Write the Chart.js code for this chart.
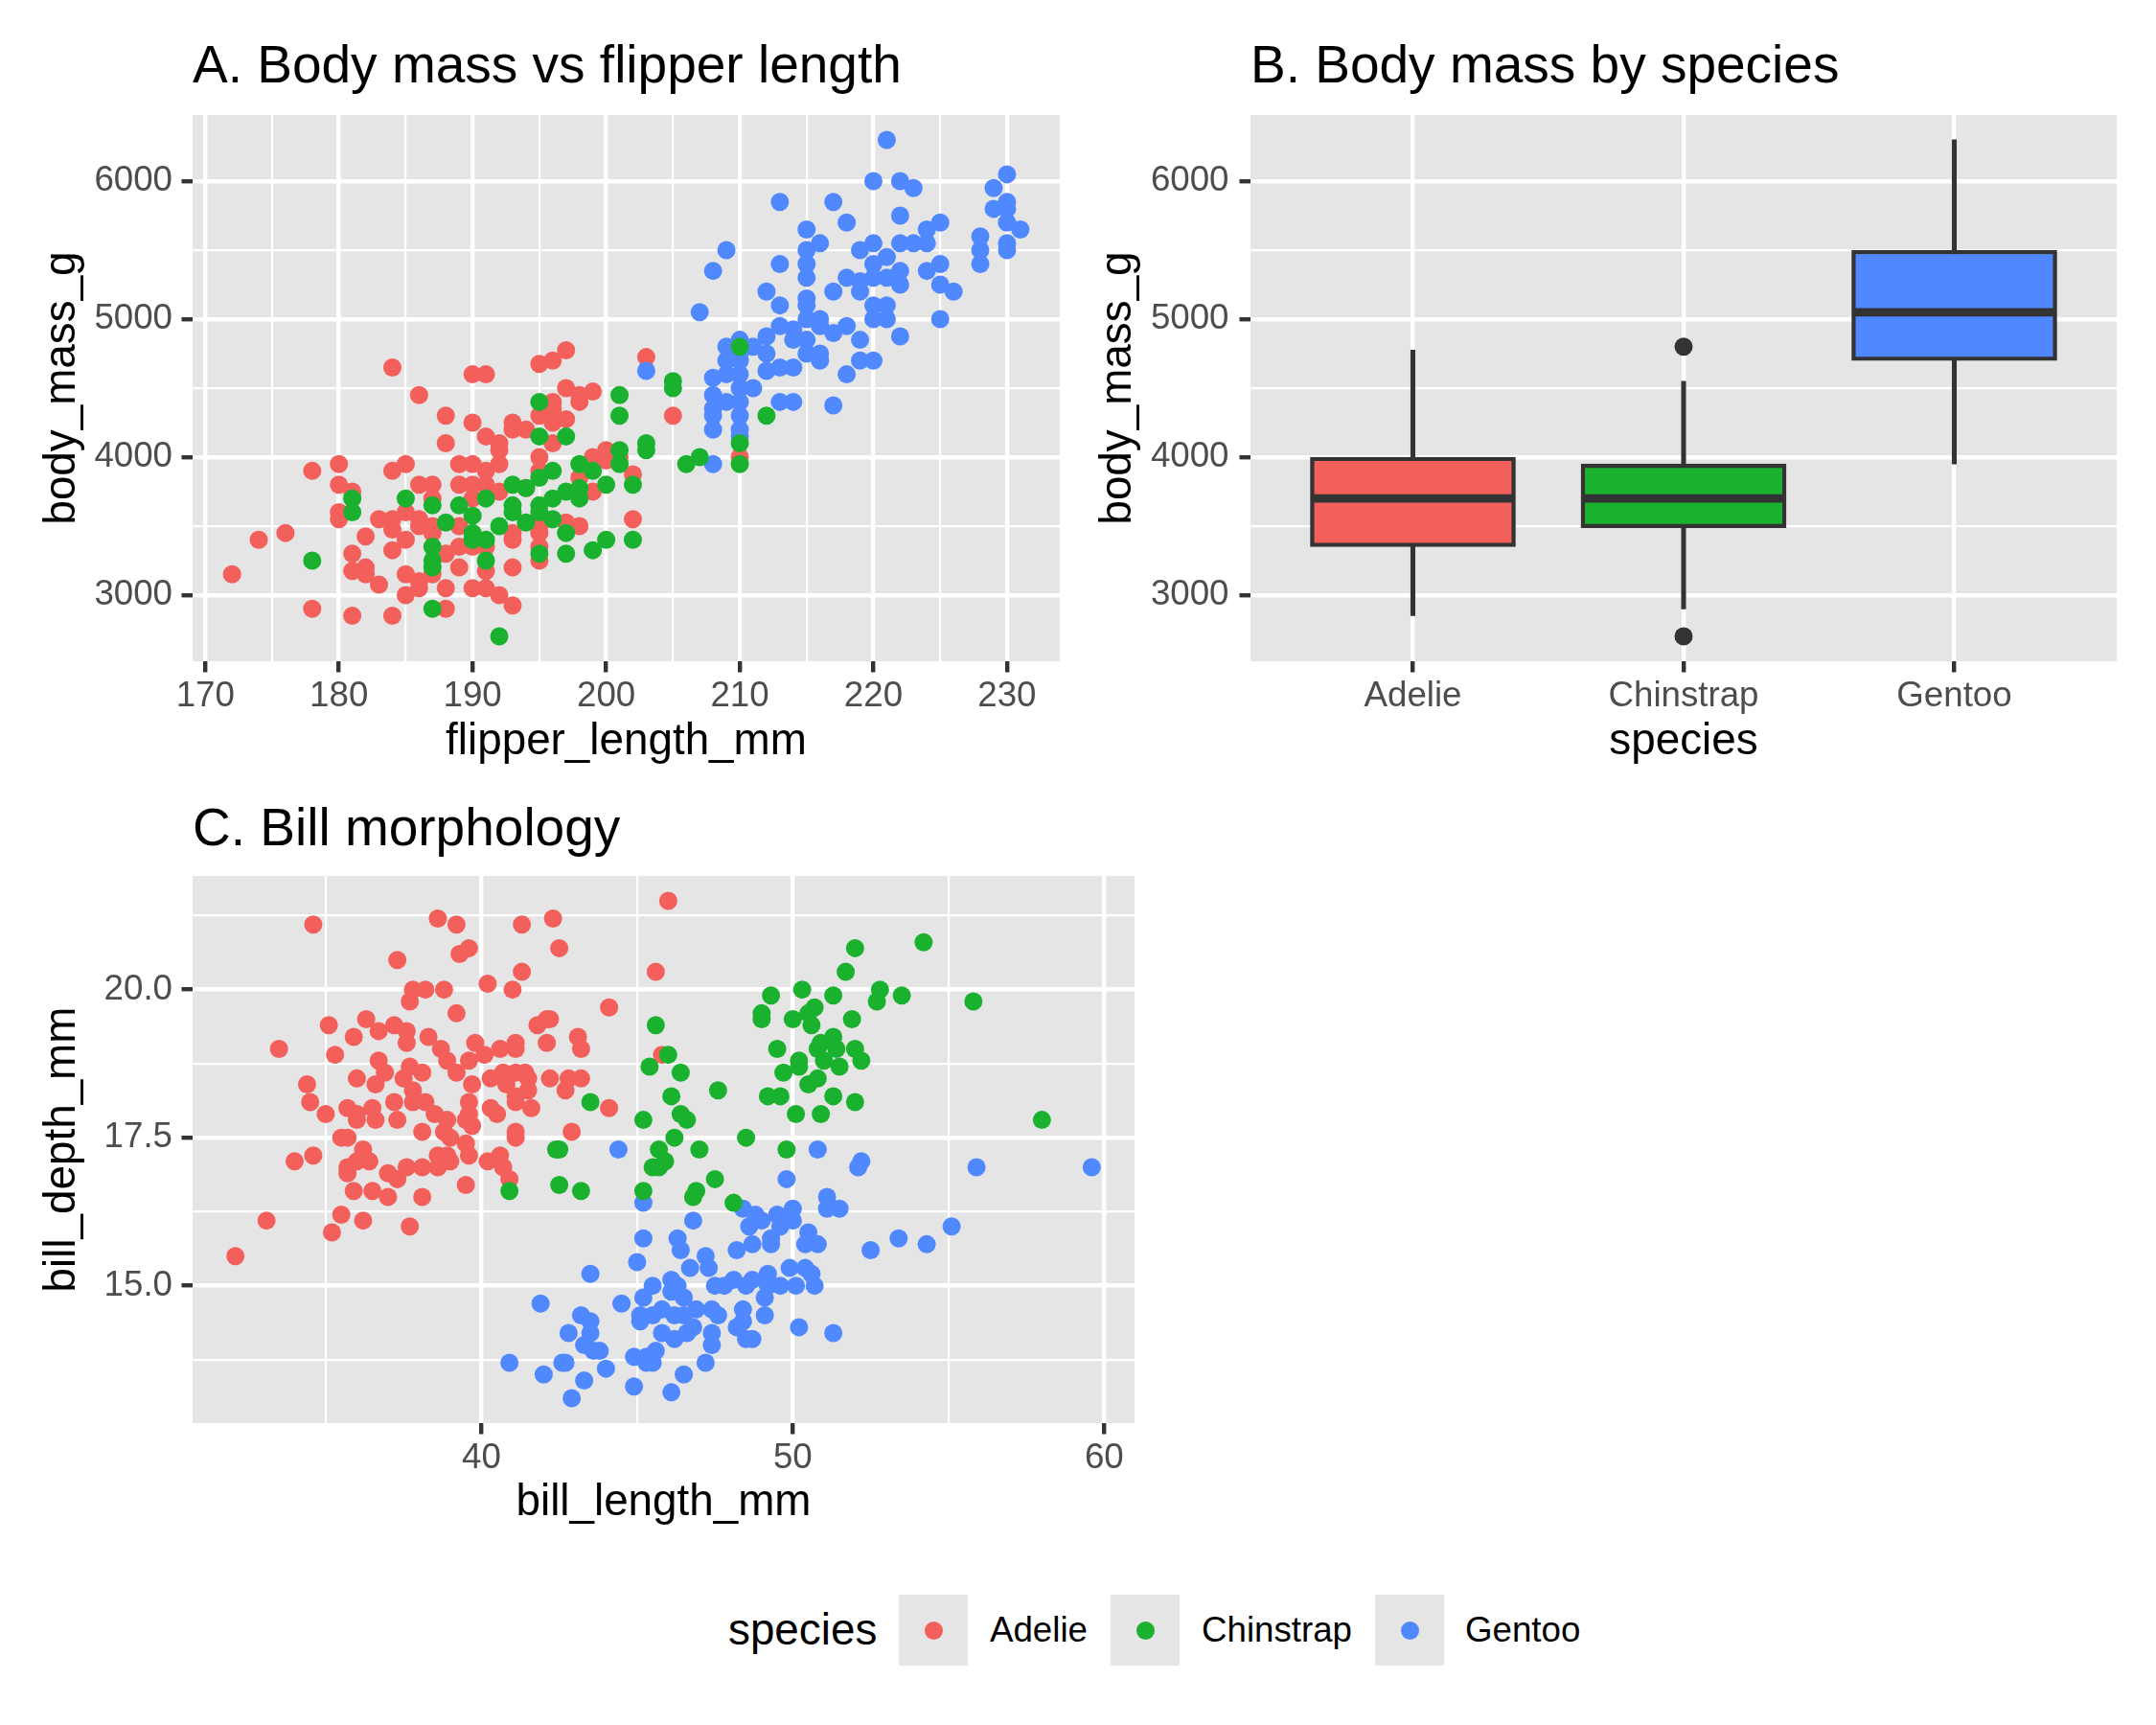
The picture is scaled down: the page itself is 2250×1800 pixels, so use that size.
<!DOCTYPE html>
<html lang="en">
<head>
<meta charset="UTF-8">
<title>Palmer penguins</title>
<script src="https://cdn.jsdelivr.net/npm/chart.js"></script>
<style>
    body {
        margin: 0;
        width: 2250px;
        height: 1800px;
        background: #ffffff;
        position: relative;
        overflow: hidden;
        font-family: "Liberation Sans", Arial, Helvetica, sans-serif;
        color: #000000;
    }
    canvas { position: absolute; }
    #chartA { left: 0; top: 0; }
    #chartB { left: 1104px; top: 0; }
    #chartC { left: 0; top: 830px; }

    .legend-title, .legend-label, .legend-key {
        position: absolute;
        top: 1664px;
        height: 74px;
        line-height: 74px;
        white-space: nowrap;
    }
    .legend-title { font-size: 45.8px; }
    .legend-label { font-size: 36.7px; }
    .legend-key { width: 72px; background: #E5E5E5; }
    .legend-key span {
        position: absolute;
        left: 26.5px;
        top: 27.5px;
        width: 19px;
        height: 19px;
        border-radius: 50%;
    }
</style>
</head>
<body>

<canvas id="chartA" width="1125" height="830"></canvas>
<canvas id="chartB" width="1146" height="830"></canvas>
<canvas id="chartC" width="1203" height="790"></canvas>

<div class="legend-title" style="left:760px">species</div>
<div class="legend-key" style="left:938px"><span style="background:#F35F5B"></span></div>
<div class="legend-label" style="left:1033px">Adelie</div>
<div class="legend-key" style="left:1159px"><span style="background:#19B12E"></span></div>
<div class="legend-label" style="left:1254px">Chinstrap</div>
<div class="legend-key" style="left:1435px"><span style="background:#5088FF"></span></div>
<div class="legend-label" style="left:1529px">Gentoo</div>

<script>
    const speciesNames = ['Adelie', 'Chinstrap', 'Gentoo'];
    const speciesColors = ['#F35F5B', '#19B12E', '#5088FF'];

    // A. [flipper_length_mm, body_mass_g]
    const adelieFlipperMass = [
        [184,4650],[190,4600],[191,4600],[195,4675],[186,4450],[188,4300],[190,4250],[188,4100],[191,4150],[192,4100],
        [192,4050],[193,4250],[193,4200],[194,4200],[195,4300],[195,4000],[178,3900],[180,3950],[180,3800],[181,3750],
        [180,3600],[180,3550],[184,3900],[185,3950],[186,3800],[187,3800],[187,3700],[183,3550],[184,3550],[184,3475],
        [185,3600],[186,3550],[186,3500],[187,3500],[187,3450],[182,3425],[185,3400],[184,3325],[181,3300],[174,3400],
        [176,3450],[172,3150],[178,2900],[181,2850],[184,2850],[181,3175],[182,3200],[182,3150],[183,3075],[185,3150],
        [185,3000],[186,3100],[186,3050],[187,3150],[188,3050],[188,2900],[188,3300],[189,3200],[189,3350],[189,3950],
        [190,3950],[191,3900],[192,3950],[189,3800],[190,3800],[191,3800],[190,3700],[189,3500],[190,3350],[191,3350],
        [190,3050],[191,3050],[192,3000],[193,2925],[191,3175],[193,3450],[193,3400],[193,3200],[192,3750],[194,3775],
        [195,3450],[195,3350],[195,3250],[195,3900],[195,3500],[196,4700],[197,4775],[197,4500],[198,4450],[199,4475],
        [198,4400],[196,4400],[196,4350],[196,4250],[197,4275],[196,4100],[199,4000],[200,4050],[200,3975],[201,4000],
        [202,3875],[198,3850],[199,3750],[197,3525],[198,3500],[202,3550],[203,4725],[205,4300],[210,4000]
    ];
    const chinstrapFlipperMass = [
        [195,4400],[195,4150],[195,3850],[193,3800],[194,3775],[193,3650],[193,3600],[195,3650],[195,3600],[194,3525],
        [192,3500],[191,3700],[189,3650],[190,3575],[190,3450],[190,3400],[191,3400],[191,3250],[188,3525],[187,3350],
        [187,3250],[187,3200],[185,3700],[187,3650],[181,3700],[181,3600],[178,3250],[187,2900],[192,2700],[195,3300],
        [197,4150],[201,4450],[201,4300],[205,4550],[205,4500],[201,4050],[201,3950],[203,4100],[203,4050],[198,3950],
        [199,3900],[196,3900],[200,3800],[202,3800],[206,3950],[207,4000],[210,4800],[210,4100],[210,3950],[212,4300],
        [197,3750],[198,3775],[198,3700],[196,3700],[196,3550],[197,3450],[197,3300],[199,3325],[200,3400],[202,3400]
    ];
    const gentooFlipperMass = [
        [207,5050],[203,4625],[208,3950],[208,4575],[208,4450],[208,4350],[208,4300],[208,4200],[209,4800],[209,4700],
        [209,4600],[209,4400],[210,4850],[210,4750],[210,4700],[210,4600],[210,4500],[210,4400],[210,4300],[210,4200],
        [210,4150],[208,5350],[209,5500],[221,6300],[220,6000],[222,6000],[223,5950],[213,5850],[217,5850],[218,5700],
        [222,5750],[215,5650],[216,5550],[215,5500],[215,5400],[215,5300],[213,5400],[219,5500],[220,5550],[222,5550],
        [223,5550],[224,5550],[224,5650],[225,5700],[221,5450],[220,5400],[222,5350],[222,5250],[218,5300],[219,5275],
        [219,5200],[221,5300],[220,5300],[217,5200],[224,5350],[225,5400],[225,5250],[226,5200],[225,5000],[212,5200],
        [213,5100],[215,5150],[215,5100],[215,5000],[216,5000],[216,4950],[220,5100],[220,5000],[221,5100],[221,5000],
        [218,4950],[219,4850],[222,4875],[217,4900],[213,4950],[214,4925],[214,4850],[215,4850],[215,4750],[216,4750],
        [216,4700],[212,4875],[211,4800],[212,4750],[212,4625],[213,4650],[214,4650],[219,4700],[220,4700],[218,4600],
        [211,4500],[213,4400],[214,4400],[217,4375],[228,5600],[228,5500],[228,5400],[229,5950],[229,5800],[230,6050],
        [230,5850],[230,5800],[230,5700],[231,5650],[230,5550],[230,5500]
    ];

    // B. box plot summaries of body_mass_g, one entry per species
    const massWhiskerLow = [2850, 2900, 3950];
    const massQ1 = [3350, 3487.5, 4700];
    const massMedian = [3700, 3700, 5050];
    const massQ3 = [4000, 3950, 5500];
    const massWhiskerHigh = [4775, 4550, 6300];
    const massOutliers = [['Chinstrap', 4800], ['Chinstrap', 2700]];

    // C. [bill_length_mm, bill_depth_mm]
    const adelieBill = [
        [34.6,21.1],[38.6,21.2],[39.2,21.1],[41.3,21.1],[42.3,21.2],[46.0,21.5],[37.3,20.5],[39.3,20.6],[39.6,20.7],[42.5,20.7],
        [41.3,20.3],[45.6,20.3],[37.8,20.0],[38.2,20.0],[38.8,20.0],[37.7,19.8],[40.2,20.1],[41.0,20.0],[39.2,19.6],[44.1,19.7],
        [41.8,19.4],[42.1,19.5],[42.2,19.5],[36.3,19.5],[35.1,19.4],[33.5,19.0],[35.9,19.2],[36.7,19.3],[37.2,19.4],[37.6,19.3],
        [37.6,19.1],[35.3,18.9],[38.3,19.2],[38.7,19.0],[39.8,19.1],[40.6,19.0],[41.1,19.1],[41.1,19.0],[42.1,19.1],[43.1,19.2],
        [43.2,19.0],[36.7,18.8],[36.9,18.6],[36.6,18.4],[36.0,18.5],[37.7,18.7],[38.1,18.6],[37.5,18.5],[37.8,18.3],[38.9,18.8],
        [39.2,18.6],[39.6,18.8],[40.1,18.9],[39.7,18.4],[40.3,18.5],[40.7,18.6],[40.8,18.4],[41.1,18.6],[41.4,18.6],[41.5,18.5],
        [41.5,18.3],[41.1,18.2],[41.1,18.1],[42.2,18.5],[42.8,18.5],[43.2,18.5],[42.7,18.3],[41.6,18.0],[44.1,18.0],[34.4,18.4],
        [34.5,18.1],[35.0,17.9],[35.7,18.0],[36.0,17.9],[36.5,18.0],[36.6,17.8],[36.0,17.8],[37.2,18.1],[37.3,17.8],[37.8,18.1],
        [38.2,18.1],[38.5,17.9],[38.9,17.8],[39.6,18.1],[39.6,17.9],[39.5,17.8],[39.7,17.7],[40.3,18.0],[40.5,17.9],[38.1,17.6],
        [38.8,17.6],[39.0,17.5],[41.1,17.6],[41.1,17.5],[42.9,17.6],[35.5,17.5],[35.7,17.5],[36.2,17.3],[36.4,17.1],[35.7,17.0],
        [35.7,16.9],[36.0,17.1],[34.6,17.2],[34.0,17.1],[37.0,16.9],[37.3,16.8],[37.6,17.0],[38.1,17.0],[38.6,17.0],[38.6,17.2],
        [38.9,17.2],[39.0,17.1],[39.5,17.4],[39.6,17.2],[40.2,17.1],[40.6,17.2],[40.7,17.0],[40.9,16.8],[39.5,16.7],[35.9,16.6],
        [36.5,16.6],[37.0,16.5],[38.1,16.5],[35.5,16.2],[36.2,16.1],[35.2,15.9],[33.1,16.1],[37.7,16.0],[32.1,15.5],[45.8,18.9]
    ];
    const chinstrapBill = [
        [45.6,19.4],[46.0,18.9],[45.4,18.7],[46.4,18.6],[46.1,18.2],[45.2,17.8],[46.4,17.9],[46.6,17.8],[46.2,17.5],[45.7,17.3],
        [45.9,17.1],[45.5,17.0],[45.7,17.0],[43.5,18.1],[42.4,17.3],[42.5,17.3],[40.9,16.6],[42.5,16.7],[43.2,16.6],[45.2,16.6],
        [52.0,20.7],[54.2,20.8],[51.7,20.3],[49.3,19.9],[50.3,20.0],[51.3,19.9],[52.8,20.0],[52.7,19.8],[53.5,19.9],[55.8,19.8],
        [49.0,19.6],[49.0,19.5],[50.0,19.5],[50.5,19.6],[50.7,19.7],[50.6,19.4],[51.9,19.5],[49.5,19.0],[50.9,19.1],[51.3,19.2],
        [51.4,19.0],[52.0,19.0],[52.2,18.8],[50.8,19.0],[51.0,18.8],[50.2,18.8],[50.2,18.7],[49.7,18.6],[51.5,18.7],[50.5,18.4],
        [50.8,18.5],[49.2,18.2],[49.6,18.2],[51.3,18.2],[52.0,18.1],[50.1,17.9],[50.9,17.9],[47.6,18.3],[48.5,17.5],[49.8,17.3],
        [47.0,17.3],[47.5,16.8],[46.9,16.6],[46.8,16.5],[48.1,16.4],[58.0,17.8]
    ];
    const gentooBill = [
        [44.4,17.3],[45.2,16.4],[50.8,17.3],[52.2,17.1],[52.1,17.0],[55.9,17.0],[59.6,17.0],[49.8,16.8],[51.1,16.5],[51.1,16.3],
        [51.5,16.3],[55.1,16.0],[46.8,16.1],[48.4,16.3],[48.8,16.2],[49.0,16.1],[48.6,16.0],[49.5,16.2],[50.0,16.3],[50.0,16.1],
        [49.6,16.0],[49.3,15.8],[49.3,15.7],[50.5,15.9],[50.4,15.7],[50.8,15.7],[48.7,15.7],[48.2,15.6],[45.2,15.8],[46.3,15.8],
        [46.4,15.6],[47.2,15.5],[46.7,15.3],[47.3,15.3],[45.0,15.4],[43.5,15.2],[47.5,15.0],[47.8,15.0],[48.1,15.1],[48.5,15.0],
        [48.7,15.1],[49.2,15.2],[49.2,15.0],[49.6,15.0],[49.9,15.3],[50.1,15.0],[50.4,15.3],[50.6,15.2],[50.7,15.0],[49.1,14.8],
        [49.1,14.5],[48.4,14.6],[48.4,14.4],[48.2,14.3],[48.5,14.1],[48.7,14.1],[50.2,14.3],[51.3,14.2],[46.1,15.1],[46.3,15.0],
        [46.1,14.9],[46.5,14.8],[45.5,15.0],[45.2,14.8],[44.5,14.7],[41.9,14.7],[45.1,14.5],[45.1,14.4],[45.5,14.5],[45.8,14.6],
        [46.2,14.5],[46.5,14.5],[46.9,14.6],[47.4,14.6],[47.6,14.5],[46.8,14.3],[46.6,14.2],[46.2,14.1],[45.8,14.2],[47.4,14.2],
        [47.4,14.0],[43.2,14.5],[43.5,14.4],[43.5,14.2],[43.3,14.0],[43.6,13.9],[43.8,13.9],[42.8,14.2],[42.6,13.7],[42.7,13.7],
        [44.0,13.6],[43.3,13.4],[42.9,13.1],[42.0,13.5],[44.9,13.8],[45.3,13.8],[45.3,13.7],[45.5,13.7],[45.6,13.9],[44.9,13.3],
        [46.5,13.5],[46.1,13.2],[47.2,13.7],[52.5,15.6],[53.4,15.8],[54.3,15.7],[40.9,13.7]
    ];

    // breaks and tick labels
    const flipperBreaks = [170, 180, 190, 200, 210, 220, 230];
    const flipperLabels = ['170', '180', '190', '200', '210', '220', '230'];
    const flipperMinor = [175, 185, 195, 205, 215, 225];
    const massBreaks = [3000, 4000, 5000, 6000];
    const massLabels = ['3000', '4000', '5000', '6000'];
    const massMinor = [3500, 4500, 5500];
    const billLengthBreaks = [40, 50, 60];
    const billLengthLabels = ['40', '50', '60'];
    const billLengthMinor = [35, 45, 55];
    const billDepthBreaks = [15, 17.5, 20];
    const billDepthLabels = ['15.0', '17.5', '20.0'];
    const billDepthMinor = [13.75, 16.25, 18.75, 21.25];

    const FONT = '"Liberation Sans", Arial, Helvetica, sans-serif';
    const GRID_MAJOR = 4.4;
    const GRID_MINOR = 2.2;
    const POINT_R = 9.5;

    Chart.defaults.font.family = FONT;
    Chart.defaults.color = '#4D4D4D';

    // ggplot style 5% padding on continuous axes
    function expandRange(values) {
        const lo = Math.min(...values), hi = Math.max(...values);
        const pad = (hi - lo) * 0.05;
        return [lo - pad, hi + pad];
    }

    const panelBackground = {
        id: 'panelBackground',
        beforeDraw(chart) {
            const { ctx, chartArea: a } = chart;
            ctx.save();
            ctx.fillStyle = '#E5E5E5';
            ctx.fillRect(a.left, a.top, a.right - a.left, a.bottom - a.top);
            ctx.restore();
        }
    };

    function makeAxis(cfg) {
        const all = cfg.breaks.concat(cfg.minor).sort((a, b) => a - b);
        const isMajor = c => c.tick && cfg.breaks.includes(c.tick.value);
        return {
            type: 'linear',
            position: cfg.position,
            min: cfg.range[0],
            max: cfg.range[1],
            bounds: 'data',
            offset: false,
            afterBuildTicks: axis => { axis.ticks = all.map(v => ({ value: v })); },
            afterFit: axis => {
                if (cfg.position === 'left') axis.width = cfg.size;
                else axis.height = cfg.size;
            },
            ticks: {
                autoSkip: false,
                maxRotation: 0,
                minRotation: 0,
                padding: cfg.tickPad,
                color: '#4D4D4D',
                font: { family: FONT, size: 36.7 },
                callback: v => {
                    const i = cfg.breaks.indexOf(v);
                    return i < 0 ? '' : cfg.labels[i];
                }
            },
            grid: {
                offset: false,
                color: '#FFFFFF',
                lineWidth: c => isMajor(c) ? GRID_MAJOR : GRID_MINOR,
                tickColor: c => isMajor(c) ? '#333333' : 'rgba(0,0,0,0)',
                tickWidth: GRID_MAJOR,
                tickLength: 11.5,
                drawTicks: true
            },
            border: { display: false },
            title: {
                display: true,
                text: cfg.title,
                color: '#000000',
                font: { family: FONT, size: 45.8 },
                padding: cfg.titlePad
            }
        };
    }

    function commonOptions(title, titlePad, padding, scales) {
        return {
            responsive: false,
            animation: false,
            devicePixelRatio: 1,
            events: [],
            layout: { padding: padding, autoPadding: false },
            scales: scales,
            plugins: {
                legend: { display: false },
                tooltip: { enabled: false },
                title: {
                    display: true,
                    text: title,
                    align: 'start',
                    fullSize: false,
                    color: '#000000',
                    font: { family: FONT, size: 55, weight: 'normal' },
                    padding: titlePad
                }
            }
        };
    }

    function pointSet(label, pairs, color, order) {
        return {
            type: 'scatter',
            label: label,
            data: pairs.map(p => ({ x: p[0], y: p[1] })),
            backgroundColor: color,
            borderWidth: 0,
            pointRadius: POINT_R,
            pointHoverRadius: POINT_R,
            order: order
        };
    }

    const allMass = [...adelieFlipperMass, ...chinstrapFlipperMass, ...gentooFlipperMass].map(p => p[1]);
    const allFlipper = [...adelieFlipperMass, ...chinstrapFlipperMass, ...gentooFlipperMass].map(p => p[0]);
    const boxMassRange = expandRange([...massWhiskerLow, ...massWhiskerHigh, ...massOutliers.map(o => o[1])]);

    // A. scatter of body mass vs flipper length
    new Chart(document.getElementById('chartA'), {
        type: 'scatter',
        data: {
            datasets: [
                pointSet('Adelie', adelieFlipperMass, speciesColors[0], 3),
                pointSet('Gentoo', gentooFlipperMass, speciesColors[2], 2),
                pointSet('Chinstrap', chinstrapFlipperMass, speciesColors[1], 1)
            ]
        },
        options: commonOptions('A. Body mass vs flipper length', { top: 38, bottom: 16 },
            { left: 0, right: 19, top: 0, bottom: 0 }, {
                x: makeAxis({ position: 'bottom', range: expandRange(allFlipper), breaks: flipperBreaks, labels: flipperLabels,
                    minor: flipperMinor, title: 'flipper_length_mm', size: 140, tickPad: 3, titlePad: { top: 0, bottom: 28.5 } }),
                y: makeAxis({ position: 'left', range: expandRange(allMass), breaks: massBreaks, labels: massLabels,
                    minor: massMinor, title: 'body_mass_g', size: 201, tickPad: 9.5, titlePad: { top: 38, bottom: 0 } })
            }),
        plugins: [panelBackground]
    });

    // B. box plot of body mass by species
    const speciesPos = speciesNames.map((s, i) => i + 1);
    const boxAxisX = makeAxis({ position: 'bottom', range: [0.4, speciesNames.length + 0.6], breaks: speciesPos,
        labels: speciesNames, minor: [], title: 'species', size: 140, tickPad: 3, titlePad: { top: 0, bottom: 28.5 } });

    new Chart(document.getElementById('chartB'), {
        type: 'bar',
        data: {
            datasets: [
                {
                    type: 'bar',
                    label: 'whiskers',
                    data: speciesPos.map((x, i) => ({ x: x, y: [massWhiskerLow[i], massWhiskerHigh[i]] })),
                    backgroundColor: '#333333',
                    barThickness: 4.4,
                    grouped: false,
                    order: 4
                },
                {
                    type: 'bar',
                    label: 'boxes',
                    data: speciesPos.map((x, i) => ({ x: x, y: [massQ1[i], massQ3[i]] })),
                    backgroundColor: speciesColors,
                    borderColor: '#333333',
                    borderWidth: 4.4,
                    borderSkipped: false,
                    barThickness: 214,
                    grouped: false,
                    order: 3
                },
                {
                    type: 'scatter',
                    label: 'median',
                    data: speciesPos.map((x, i) => ({ x: x, y: massMedian[i] })),
                    pointStyle: 'line',
                    pointRadius: 105,
                    pointHoverRadius: 105,
                    pointBorderColor: '#333333',
                    pointBorderWidth: 8.9,
                    borderColor: '#333333',
                    borderWidth: 8.9,
                    order: 2
                },
                {
                    type: 'scatter',
                    label: 'outliers',
                    data: massOutliers.map(o => ({ x: speciesNames.indexOf(o[0]) + 1, y: o[1] })),
                    backgroundColor: '#333333',
                    borderWidth: 0,
                    pointRadius: POINT_R,
                    pointHoverRadius: POINT_R,
                    order: 1
                }
            ]
        },
        options: commonOptions('B. Body mass by species', { top: 38, bottom: 16 },
            { left: 0, right: 41, top: 0, bottom: 0 }, {
                x: boxAxisX,
                y: makeAxis({ position: 'left', range: boxMassRange, breaks: massBreaks, labels: massLabels,
                    minor: massMinor, title: 'body_mass_g', size: 201, tickPad: 11, titlePad: { top: 36, bottom: 0 } })
            }),
        plugins: [panelBackground]
    });

    // C. bill length vs bill depth
    const allBillLength = [...adelieBill, ...chinstrapBill, ...gentooBill].map(p => p[0]);
    const allBillDepth = [...adelieBill, ...chinstrapBill, ...gentooBill].map(p => p[1]);

    new Chart(document.getElementById('chartC'), {
        type: 'scatter',
        data: {
            datasets: [
                pointSet('Adelie', adelieBill, speciesColors[0], 3),
                pointSet('Gentoo', gentooBill, speciesColors[2], 2),
                pointSet('Chinstrap', chinstrapBill, speciesColors[1], 1)
            ]
        },
        options: commonOptions('C. Bill morphology', { top: 4, bottom: 14 },
            { left: 0, right: 19, top: 0, bottom: 0 }, {
                x: makeAxis({ position: 'bottom', range: expandRange(allBillLength), breaks: billLengthBreaks, labels: billLengthLabels,
                    minor: billLengthMinor, title: 'bill_length_mm', size: 135, tickPad: 3, titlePad: { top: 0, bottom: 24.5 } }),
                y: makeAxis({ position: 'left', range: expandRange(allBillDepth), breaks: billDepthBreaks, labels: billDepthLabels,
                    minor: billDepthMinor, title: 'bill_depth_mm', size: 201, tickPad: 9.5, titlePad: { top: 38, bottom: 0 } })
            }),
        plugins: [panelBackground]
    });
</script>
</body>
</html>
